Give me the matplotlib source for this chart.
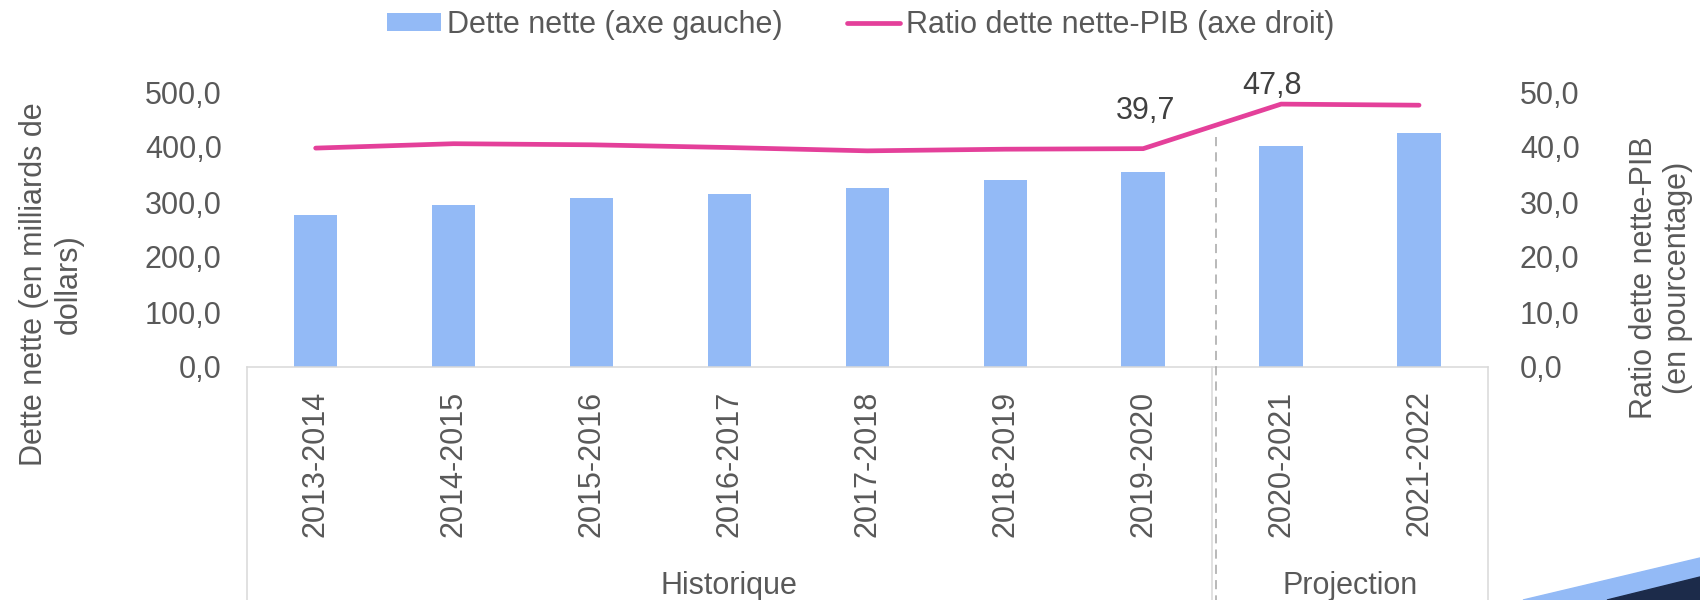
import matplotlib
matplotlib.use("Agg")

import matplotlib.pyplot as plt
import matplotlib.transforms as mtransforms
from matplotlib.lines import Line2D
from matplotlib.patches import Polygon
from matplotlib.ticker import FuncFormatter

periodes = ["2013-2014", "2014-2015", "2015-2016", "2016-2017", "2017-2018",
            "2018-2019", "2019-2020", "2020-2021", "2021-2022"]
dette_nette = [276, 294, 307, 314, 325, 340, 355, 402, 426]
ratio_pib = [39.8, 40.6, 40.4, 39.9, 39.3, 39.6, 39.7, 47.8, 47.6]
groupes = ["Historique", "Projection"]
groupe_taille = [7, 2]

plt.rcParams["font.family"] = ["Liberation Sans", "DejaVu Sans"]
plt.rcParams["font.size"] = 22

GRIS = "#595959"
BLEU = "#93baf6"
ROSE = "#e4409a"
BORD = "#d9d9d9"

W, H = 1700, 600
fig = plt.figure(figsize=(17, 6), dpi=100)
ax = fig.add_axes([246.7 / W, 1 - 367 / H, (1488 - 246.7) / W, 275 / H])
ax2 = ax.twinx()

x = list(range(len(periodes)))
ax.bar(x, dette_nette, width=0.315, color=BLEU, zorder=2,
       label="Dette nette (axe gauche)")
ax2.plot(x, ratio_pib, color=ROSE, lw=3.4, solid_capstyle="round",
         solid_joinstyle="round", label="Ratio dette nette-PIB (axe droit)")

ax.set_xlim(-0.5, len(periodes) - 0.5)
ax.set_ylim(0, 500)
ax2.set_ylim(0, 50)
ax.set_yticks(range(0, 501, 100))
ax2.set_yticks(range(0, 51, 10))
fmt = FuncFormatter(lambda v, p: f"{v:.1f}".replace(".", ","))
ax.yaxis.set_major_formatter(fmt)
ax2.yaxis.set_major_formatter(fmt)

ax.set_xticks(x)
ax.set_xticklabels(periodes, rotation=90)
ax.tick_params(axis="x", length=0, pad=17, colors=GRIS)
ax.tick_params(axis="y", length=0, pad=18, colors=GRIS)
ax2.tick_params(axis="y", length=0, pad=23, colors=GRIS)

for a in (ax, ax2):
    for s in a.spines.values():
        s.set_visible(False)
ax.spines["bottom"].set_visible(True)
ax.spines["bottom"].set_color(BORD)
ax.spines["bottom"].set_linewidth(1.1)

# boite des categories a deux niveaux
trans = mtransforms.blended_transform_factory(ax.transData, ax.transAxes)
bas = -(H - 367) / 275
debut = -0.5
bornes = [debut]
for n in groupe_taille:
    bornes.append(bornes[-1] + n)
for b in bornes:
    ax.add_line(Line2D([b, b], [0, bas], transform=trans, color=BORD,
                       lw=1.1, clip_on=False))
for g, n, b in zip(groupes, groupe_taille, bornes):
    ax.text(b + n / 2, -(594 - 367) / 275, g, transform=trans, ha="center",
            va="baseline", color=GRIS)

# separation historique / projection
sep = bornes[1] + 0.025
ax.add_line(Line2D([sep, sep], [418 / 500, bas], transform=trans,
                   color="#a6a6a6", lw=1.1, ls=(0, (6, 4)), clip_on=False,
                   zorder=3))

# etiquettes de donnees
ax2.annotate(f"{ratio_pib[6]:.1f}".replace(".", ","), (6, ratio_pib[6]),
             xytext=(1.5, 27.4), textcoords="offset points", ha="center",
             va="center", color="#404040")
ax2.annotate(f"{ratio_pib[7]:.1f}".replace(".", ","), (7, ratio_pib[7]),
             xytext=(-6.5, 13.3), textcoords="offset points", ha="center",
             va="center", color="#404040")

fig.text(51 / W, 1 - 284 / H, "Dette nette (en milliards de\ndollars)",
         rotation=90, ha="center", va="center", multialignment="center",
         color=GRIS)
fig.text(1661 / W, 1 - 278 / H, "Ratio dette nette-PIB\n(en pourcentage)",
         rotation=90, ha="center", va="center", multialignment="center",
         color=GRIS)

h1, l1 = ax.get_legend_handles_labels()
h2, l2 = ax2.get_legend_handles_labels()
leg = fig.legend(h1 + h2, l1 + l2, loc="center", bbox_to_anchor=(0.5065, 1 - 25 / H),
                 ncol=2, frameon=False, handlelength=1.75, handleheight=0.5,
                 handletextpad=0.2, columnspacing=2.1)
for t in leg.get_texts():
    t.set_color(GRIS)

# decor en bas a droite
fig.patches.append(Polygon([(1523 / W, 0), (1, (H - 558) / H), (1, 0)],
                           closed=True, transform=fig.transFigure,
                           color="#93baf6", zorder=5))
fig.patches.append(Polygon([(1607 / W, 0), (1, (H - 577) / H), (1, 0)],
                           closed=True, transform=fig.transFigure,
                           color="#1c2b4a", zorder=6))

fig.savefig("out.png", dpi=100)
